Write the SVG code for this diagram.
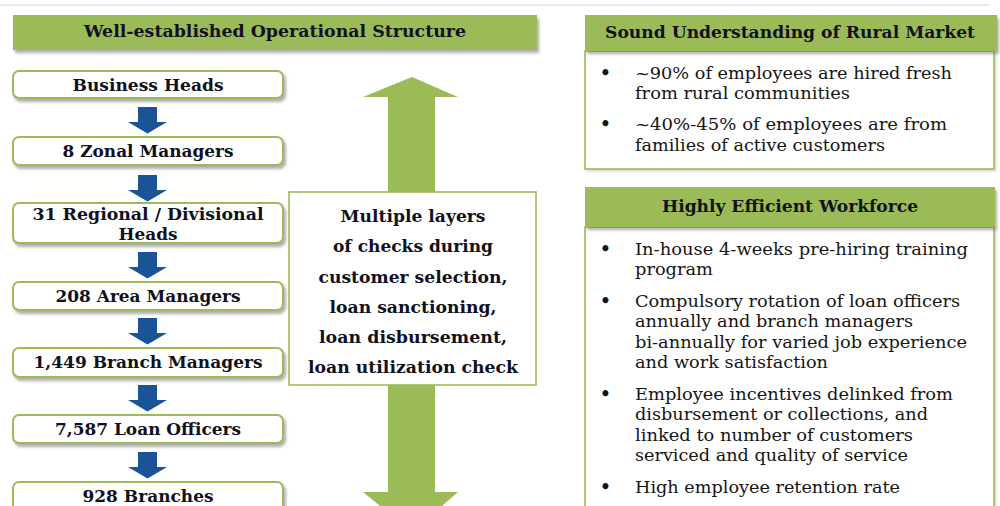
<svg xmlns="http://www.w3.org/2000/svg" xmlns:xlink="http://www.w3.org/1999/xlink" width="1000" height="506" viewBox="0 0 1000 506">
  <style>
    .hdr { fill: #9bbb59; }
    .node { fill: #ffffff; stroke: #9bbb59; stroke-width: 2; }
    .panel { fill: #ffffff; stroke: #9bbb59; stroke-width: 1.6; }
    .bold { font-family: "DejaVu Serif", "Liberation Serif", serif; font-weight: bold; fill: #10111c; }
    .lbl { font-size: 16px; text-anchor: middle; }
    .mid { font-size: 16.5px; text-anchor: middle; }
    .title { font-size: 16px; text-anchor: middle; }
    .body { font-family: "DejaVu Serif", "Liberation Serif", serif; font-size: 16.5px; fill: #141414; }
    .dot { font-family: "DejaVu Sans", sans-serif; font-size: 17px; font-weight: bold; fill: #141414; }
    .blue { fill: #1b5494; }
    .green { fill: #9bbb59; }
  </style>
  <defs>
    <filter id="shadow" x="-5%" y="-20%" width="112%" height="160%">
      <feDropShadow dx="2" dy="3" stdDeviation="1.6" flood-color="#6d6d6d" flood-opacity="0.55"/>
    </filter>
    <filter id="soft" x="-5%" y="-5%" width="112%" height="112%">
      <feDropShadow dx="1.5" dy="1.5" stdDeviation="1.2" flood-color="#8a8a8a" flood-opacity="0.35"/>
    </filter>
    <!-- block arrow pointing down, origin at top centre of the shaft -->
    <path id="down" d="M-9.5,0 H9.5 V15 H19.5 L0,26.5 L-19.5,15 H-9.5 Z"/>
  </defs>

  <rect width="1000" height="506" fill="#ffffff"/>
  <line x1="0" y1="5" x2="990" y2="5" stroke="#ececec" stroke-width="2"/>

  <!-- left column heading -->
  <g id="heading-structure">
    <rect class="hdr" x="13" y="15" width="524" height="35" filter="url(#shadow)"/>
    <text class="bold title" x="275" y="37" textLength="382" lengthAdjust="spacingAndGlyphs">Well-established Operational Structure</text>
  </g>

  <!-- connectors: hierarchy arrows and the two-way checks arrow -->
  <g id="connectors">
    <use xlink:href="#down" class="blue" x="147.5" y="107"/>
    <use xlink:href="#down" class="blue" x="147.5" y="175"/>
    <use xlink:href="#down" class="blue" x="147.5" y="252"/>
    <use xlink:href="#down" class="blue" x="147.5" y="318"/>
    <use xlink:href="#down" class="blue" x="147.5" y="385"/>
    <use xlink:href="#down" class="blue" x="147.5" y="452"/>
    <path class="green" d="M412,77 L458,97 H435 V492 H458 L412,532 L363,492 H388 V97 H363 Z"/>
  </g>

  <!-- hierarchy nodes -->
  <g id="business-heads">
    <rect class="node" x="13" y="71" width="270" height="27" rx="6" filter="url(#shadow)"/>
    <text class="bold lbl" x="148" y="91" textLength="151" lengthAdjust="spacingAndGlyphs">Business Heads</text>
  </g>
  <g id="zonal-managers">
    <rect class="node" x="13" y="137" width="270" height="28" rx="6" filter="url(#shadow)"/>
    <text class="bold lbl" x="148" y="157" textLength="171" lengthAdjust="spacingAndGlyphs">8 Zonal Managers</text>
  </g>
  <g id="regional-heads">
    <rect class="node" x="13" y="203" width="270" height="40" rx="6" filter="url(#shadow)"/>
    <text class="bold lbl" x="148" y="220" textLength="231" lengthAdjust="spacingAndGlyphs">31 Regional / Divisional</text>
    <text class="bold lbl" x="148" y="240" textLength="59" lengthAdjust="spacingAndGlyphs">Heads</text>
  </g>
  <g id="area-managers">
    <rect class="node" x="13" y="282" width="270" height="28" rx="6" filter="url(#shadow)"/>
    <text class="bold lbl" x="148" y="302" textLength="185" lengthAdjust="spacingAndGlyphs">208 Area Managers</text>
  </g>
  <g id="branch-managers">
    <rect class="node" x="13" y="348" width="270" height="29" rx="6" filter="url(#shadow)"/>
    <text class="bold lbl" x="148" y="368" textLength="229" lengthAdjust="spacingAndGlyphs">1,449 Branch Managers</text>
  </g>
  <g id="loan-officers">
    <rect class="node" x="13" y="415" width="270" height="28" rx="6" filter="url(#shadow)"/>
    <text class="bold lbl" x="148" y="435" textLength="186" lengthAdjust="spacingAndGlyphs">7,587 Loan Officers</text>
  </g>
  <g id="branches">
    <rect class="node" x="13" y="482" width="270" height="30" rx="6" filter="url(#shadow)"/>
    <text class="bold lbl" x="148" y="502" textLength="131" lengthAdjust="spacingAndGlyphs">928 Branches</text>
  </g>

  <!-- checks box across the two-way arrow -->
  <g id="checks">
    <rect class="panel" x="289" y="192" width="247" height="193"/>
    <text class="bold mid" x="413" y="222" textLength="145" lengthAdjust="spacingAndGlyphs">Multiple layers</text>
    <text class="bold mid" x="413" y="252" textLength="160" lengthAdjust="spacingAndGlyphs">of checks during</text>
    <text class="bold mid" x="413" y="283" textLength="189" lengthAdjust="spacingAndGlyphs">customer selection,</text>
    <text class="bold mid" x="413" y="313" textLength="167" lengthAdjust="spacingAndGlyphs">loan sanctioning,</text>
    <text class="bold mid" x="413" y="343" textLength="188" lengthAdjust="spacingAndGlyphs">loan disbursement,</text>
    <text class="bold mid" x="413" y="373" textLength="210" lengthAdjust="spacingAndGlyphs">loan utilization check</text>
  </g>

  <!-- rural market panel -->
  <g id="rural-market">
    <rect class="panel" x="585" y="51" width="409" height="118" filter="url(#soft)"/>
    <rect class="hdr" x="585" y="15" width="412" height="36" filter="url(#shadow)"/>
    <text class="bold title" x="790" y="38" textLength="370" lengthAdjust="spacingAndGlyphs">Sound Understanding of Rural Market</text>
    <text class="dot" x="600" y="79">•</text>
    <text class="body" x="635" y="79" textLength="317" lengthAdjust="spacingAndGlyphs">~90% of employees are hired fresh</text>
    <text class="body" x="635" y="99" textLength="215" lengthAdjust="spacingAndGlyphs">from rural communities</text>
    <text class="dot" x="600" y="130">•</text>
    <text class="body" x="635" y="130" textLength="312" lengthAdjust="spacingAndGlyphs">~40%-45% of employees are from</text>
    <text class="body" x="635" y="151" textLength="250" lengthAdjust="spacingAndGlyphs">families of active customers</text>
  </g>

  <!-- workforce panel -->
  <g id="workforce">
    <rect class="panel" x="585" y="227" width="409" height="290" filter="url(#soft)"/>
    <rect class="hdr" x="585" y="187" width="410" height="40" filter="url(#shadow)"/>
    <text class="bold title" x="790" y="212" textLength="256" lengthAdjust="spacingAndGlyphs">Highly Efficient Workforce</text>
    <text class="dot" x="600" y="255">•</text>
    <text class="body" x="635" y="255" textLength="333" lengthAdjust="spacingAndGlyphs">In-house 4-weeks pre-hiring training</text>
    <text class="body" x="635" y="275" textLength="78" lengthAdjust="spacingAndGlyphs">program</text>
    <text class="dot" x="600" y="307">•</text>
    <text class="body" x="635" y="307" textLength="325" lengthAdjust="spacingAndGlyphs">Compulsory rotation of loan officers</text>
    <text class="body" x="635" y="327" textLength="278" lengthAdjust="spacingAndGlyphs">annually and branch managers</text>
    <text class="body" x="635" y="348" textLength="332" lengthAdjust="spacingAndGlyphs">bi-annually for varied job experience</text>
    <text class="body" x="635" y="368" textLength="193" lengthAdjust="spacingAndGlyphs">and work satisfaction</text>
    <text class="dot" x="600" y="400">•</text>
    <text class="body" x="635" y="400" textLength="318" lengthAdjust="spacingAndGlyphs">Employee incentives delinked from</text>
    <text class="body" x="635" y="420" textLength="293" lengthAdjust="spacingAndGlyphs">disbursement or collections, and</text>
    <text class="body" x="635" y="441" textLength="278" lengthAdjust="spacingAndGlyphs">linked to number of customers</text>
    <text class="body" x="635" y="461" textLength="273" lengthAdjust="spacingAndGlyphs">serviced and quality of service</text>
    <text class="dot" x="600" y="493">•</text>
    <text class="body" x="635" y="493" textLength="265" lengthAdjust="spacingAndGlyphs">High employee retention rate</text>
  </g>
</svg>
